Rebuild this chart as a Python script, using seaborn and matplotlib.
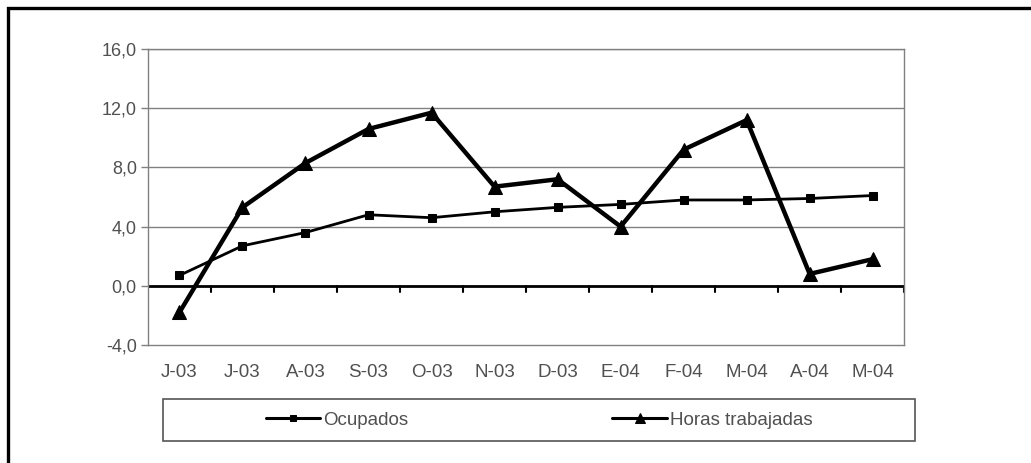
import numpy as np
import pandas as pd

import matplotlib
matplotlib.use("Agg")
import matplotlib.pyplot as plt
from matplotlib.patches import Rectangle
from matplotlib.ticker import FuncFormatter
import seaborn as sns

sns.set_theme(style="white", rc={"axes.edgecolor": "#808080"})
plt.rcParams["font.family"] = ["Liberation Sans", "DejaVu Sans"]

meses = ["J-03", "J-03", "A-03", "S-03", "O-03", "N-03",
         "D-03", "E-04", "F-04", "M-04", "A-04", "M-04"]
ocupados = [0.7, 2.7, 3.6, 4.8, 4.6, 5.0, 5.3, 5.5, 5.8, 5.8, 5.9, 6.1]
horas = [-1.8, 5.3, 8.3, 10.6, 11.7, 6.7, 7.2, 4.0, 9.2, 11.2, 0.8, 1.8]
yticks = [-4, 0, 4, 8, 12, 16]

df = pd.DataFrame({
    "pos": np.arange(len(meses)),
    "Ocupados": ocupados,
    "Horas trabajadas": horas,
})

TXT = "#505050"
W, H = 1031, 463

fig = plt.figure(figsize=(W / 100, H / 100), dpi=100)
ax = fig.add_axes([0.1435, 0.255, 0.7335, 0.639])

# grid lines
for v in yticks[2:]:
    ax.axhline(v, color="#808080", lw=1.0, zorder=1)
ax.axhline(0, color="black", lw=2.0, zorder=2)

sns.lineplot(data=df, x="pos", y="Ocupados", ax=ax, color="black",
             lw=2.0, marker="s", markersize=6, markeredgecolor="black",
             label="Ocupados", zorder=3)
sns.lineplot(data=df, x="pos", y="Horas trabajadas", ax=ax, color="black",
             lw=3.2, marker="^", markersize=9.5, markeredgecolor="black",
             label="Horas trabajadas", zorder=4)

ax.set_xlim(-0.5, len(meses) - 0.5)
ax.set_ylim(-4, 16)
ax.set_yticks(yticks)
ax.yaxis.set_major_formatter(FuncFormatter(lambda v, p: f"{v:.1f}".replace(".", ",")))
ax.set_xticks(df["pos"])
ax.set_xticklabels(meses)
ax.tick_params(axis="y", left=True, length=5, width=1, color="#808080",
               labelsize=13, labelcolor=TXT, pad=3)
ax.tick_params(axis="x", bottom=False, labelsize=13.5, labelcolor=TXT, pad=8)
ax.set_xlabel("")
ax.set_ylabel("")
for s in ax.spines.values():
    s.set_linewidth(1.0)
    s.set_color("#808080")

# tick marks between categories on the zero line
for b in np.arange(0.5, len(meses), 1.0):
    ax.plot([b, b], [0, -0.45], color="black", lw=1.5, zorder=2, clip_on=False)

ax.get_legend().remove()
h, l = ax.get_legend_handles_labels()
leg = fig.legend(h, l, loc="center", ncol=2,
                 bbox_to_anchor=(539 / W, 1 - 420 / H),
                 frameon=False, fontsize=13.5, handlelength=2.9,
                 handletextpad=0.15, columnspacing=10.9)
for t in leg.get_texts():
    t.set_color(TXT)
for line, ms in zip(leg.get_lines(), [5, 7]):
    line.set_linewidth(2.2)
    line.set_markersize(ms)

# legend box
fig.patches.append(Rectangle((163 / W, 1 - 441 / H), 752 / W, 42 / H,
                             transform=fig.transFigure, fill=False,
                             edgecolor="#555555", lw=1.2))

# outer chart frame
fig.patches.append(Rectangle((8 / W, -0.05), 1.1, 1 - 8 / H + 0.05,
                             transform=fig.transFigure, fill=False,
                             edgecolor="black", lw=2.4, clip_on=False))

fig.savefig("out.png", dpi=100)
